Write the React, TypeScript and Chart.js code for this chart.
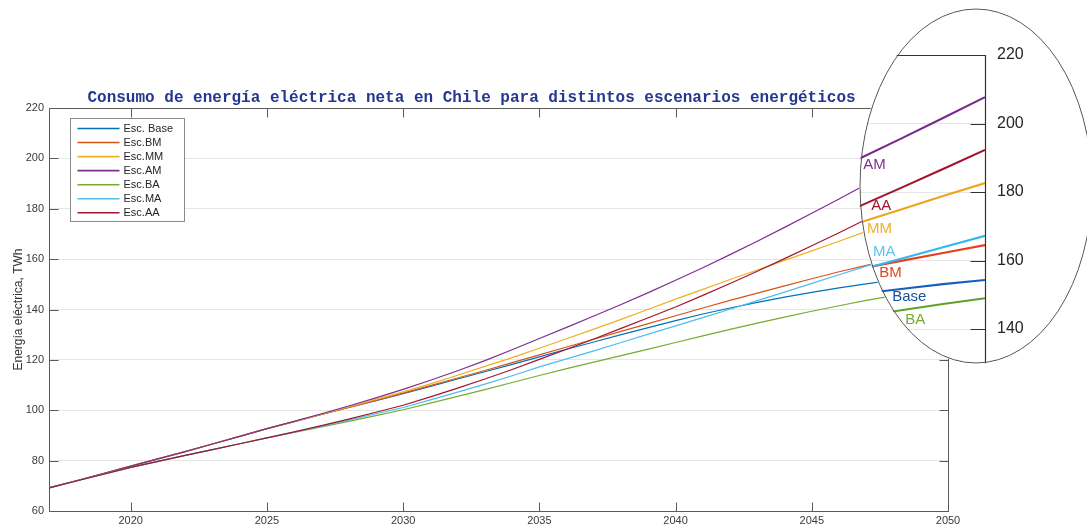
import React, { useEffect, useRef } from "react";
import { Chart, registerables } from "chart.js";

Chart.register(...registerables);

// ---- data -------------------------------------------------------------
const years = [
  2017, 2018, 2019, 2020, 2021, 2022, 2023, 2024, 2025, 2026, 2027, 2028,
  2029, 2030, 2031, 2032, 2033, 2034, 2035, 2036, 2037, 2038, 2039, 2040,
  2041, 2042, 2043, 2044, 2045, 2046, 2047, 2048, 2049, 2050,
];

const escBase = [
  69.2, 72.0, 74.9, 77.8, 80.7, 83.6, 86.6, 89.6, 92.7, 95.5, 98.3, 101.1,
  103.8, 106.6, 109.5, 112.4, 115.3, 118.2, 121.2, 124.2, 127.1, 130.0, 132.8,
  135.6, 138.2, 140.6, 142.8, 144.9, 146.8, 148.6, 150.2, 151.7, 153.1, 154.3,
];
const escBM = [
  69.2, 72.0, 74.9, 77.8, 80.7, 83.6, 86.6, 89.6, 92.7, 95.5, 98.3, 101.1,
  103.9, 106.8, 109.8, 112.8, 115.8, 118.9, 122.0, 125.1, 128.2, 131.3, 134.4,
  137.5, 140.6, 143.6, 146.5, 149.4, 152.2, 155.0, 157.5, 159.9, 162.2, 164.5,
];
const escMM = [
  69.2, 72.0, 74.9, 77.8, 80.7, 83.6, 86.6, 89.6, 92.7, 95.5, 98.4, 101.3,
  104.3, 107.3, 110.5, 113.9, 117.4, 120.9, 124.6, 128.4, 132.2, 136.1, 140.1,
  144.1, 148.0, 151.9, 155.7, 159.5, 163.3, 167.1, 171.0, 174.9, 178.8, 182.6,
];
const escAM = [
  69.2, 72.0, 74.9, 77.8, 80.7, 83.6, 86.6, 89.6, 92.7, 95.6, 98.6, 101.7,
  104.9, 108.3, 111.9, 115.7, 119.7, 124.0, 128.5, 132.9, 137.4, 142.0, 146.7,
  151.6, 156.6, 161.8, 167.1, 172.6, 178.2, 183.9, 189.7, 195.6, 201.6, 207.7,
];
const escBA = [
  69.2, 71.9, 74.6, 77.3, 79.7, 82.1, 84.4, 86.7, 89.0, 91.2, 93.4, 95.6,
  97.9, 100.2, 102.8, 105.5, 108.2, 111.0, 113.8, 116.5, 119.1, 121.7, 124.3,
  126.9, 129.5, 132.1, 134.6, 137.0, 139.3, 141.5, 143.6, 145.5, 147.3, 149.0,
];
const escMA = [
  69.2, 71.9, 74.6, 77.3, 79.7, 82.1, 84.4, 86.7, 89.0, 91.3, 93.7, 96.1,
  98.6, 101.1, 104.1, 107.2, 110.4, 113.7, 117.2, 120.4, 123.6, 126.9, 130.2,
  133.5, 136.8, 140.1, 143.5, 146.9, 150.4, 153.8, 157.2, 160.5, 163.9, 167.2,
];
const escAA = [
  69.2, 71.9, 74.6, 77.3, 79.7, 82.1, 84.4, 86.7, 89.0, 91.4, 93.9, 96.5,
  99.2, 102.0, 105.3, 108.8, 112.4, 116.2, 120.2, 124.2, 128.3, 132.5, 136.7,
  141.0, 145.6, 150.3, 155.2, 160.2, 165.3, 170.5, 175.8, 181.2, 186.7, 192.3,
];

const seriesValues = [escBase, escBM, escMM, escAM, escBA, escMA, escAA];
const legendNames = ["Esc. Base", "Esc.BM", "Esc.MM", "Esc.AM", "Esc.BA", "Esc.MA", "Esc.AA"];
const shortNames = ["Base", "BM", "MM", "AM", "BA", "MA", "AA"];
const seriesColors = ["#0072BD", "#D95319", "#EDB120", "#7E2F8E", "#77AC30", "#4DBEEE", "#A2142F"];
const lensColors = ["#1560BD", "#E8401C", "#EDA51A", "#7A2A8C", "#62A02C", "#33B8EE", "#A2142F"];
const labelColors = ["#1d4f9f", "#E0461F", "#EDB120", "#7E2F8E", "#77AC30", "#5CC3EE", "#A2142F"];

// where each scenario tag sits inside the zoom lens (year, TWh)
const tagYears = [2047.79, 2047.48, 2047.19, 2047.1, 2048.1, 2047.33, 2047.29];
const tagValues = [149.3, 156.4, 169.2, 187.9, 142.6, 162.5, 175.9];

const xTicks = [2020, 2025, 2030, 2035, 2040, 2045, 2050];
const yTicks = [60, 80, 100, 120, 140, 160, 180, 200, 220];
const lensTicks = [100, 120, 140, 160, 180, 200, 220];

const titleText = "Consumo de energía eléctrica neta en Chile para distintos escenarios energéticos";
const yTitle = "Energía eléctrica, TWh";

// ---- helpers -----------------------------------------------------------
const W = 1087;
const H = 527;
const SANS = '"Liberation Sans", Arial, Helvetica, sans-serif';

function buildDatasets(width: number, colors: string[]) {
  const n = seriesValues.length;
  return seriesValues.map((vals, i) => ({
    label: legendNames[i],
    data: years.map((yr, k) => ({ x: yr, y: vals[k] })),
    borderColor: colors[i],
    backgroundColor: colors[i],
    borderWidth: width,
    pointRadius: 0,
    tension: 0,
    fill: false,
    order: n - i,
  }));
}

const framePlugin = {
  id: "frame",
  afterDraw(chart: any) {
    const { ctx, chartArea: a, scales } = chart;
    const xs = scales.x;
    const ys = scales.y;
    const L = Math.round(a.left) + 0.5;
    const R = Math.round(a.right) + 0.5;
    const T = Math.round(a.top) + 0.5;
    const B = Math.round(a.bottom) + 0.5;
    ctx.save();
    ctx.strokeStyle = "#5a5a5a";
    ctx.lineWidth = 1;
    ctx.beginPath();
    ctx.rect(L, T, R - L, B - T);
    const tl = 9;
    xTicks.forEach((v) => {
      const px = Math.round(xs.getPixelForValue(v)) + 0.5;
      ctx.moveTo(px, B);
      ctx.lineTo(px, B - tl);
      ctx.moveTo(px, T);
      ctx.lineTo(px, T + tl);
    });
    yTicks.forEach((v) => {
      const py = Math.round(ys.getPixelForValue(v)) + 0.5;
      ctx.moveTo(L, py);
      ctx.lineTo(L + tl, py);
      ctx.moveTo(R, py);
      ctx.lineTo(R - tl, py);
    });
    ctx.stroke();

    // title
    ctx.font = 'bold 16px "Liberation Mono", "Courier New", monospace';
    ctx.fillStyle = "#26378f";
    ctx.textAlign = "center";
    ctx.textBaseline = "alphabetic";
    ctx.fillText(titleText, a.left + a.width * 0.47, a.top - 6);

    // legend
    const bx = Math.round(a.left) + 21.5;
    const by = T + 10;
    const bw = 114;
    const bh = 103;
    ctx.fillStyle = "#ffffff";
    ctx.fillRect(bx, by, bw, bh);
    ctx.strokeStyle = "#8a8a8a";
    ctx.strokeRect(bx, by, bw, bh);
    ctx.font = `11px ${SANS}`;
    ctx.textAlign = "left";
    ctx.textBaseline = "middle";
    legendNames.forEach((name, i) => {
      const ry = by + 10 + i * 14.05;
      ctx.strokeStyle = seriesColors[i];
      ctx.lineWidth = 1.6;
      ctx.beginPath();
      ctx.moveTo(bx + 7, ry);
      ctx.lineTo(bx + 49, ry);
      ctx.stroke();
      ctx.fillStyle = "#262626";
      ctx.fillText(name, bx + 53, ry + 0.5);
    });
    ctx.restore();
  },
};

const LENS = { cx: 976, cy: 186, rx: 116, ry: 177 };

const lensPlugin = {
  id: "lens",
  beforeDraw(chart: any) {
    const { ctx } = chart;
    ctx.save();
    ctx.fillStyle = "#ffffff";
    ctx.fillRect(0, 0, chart.width, chart.height);
    ctx.restore();
  },
  afterDraw(chart: any) {
    const { ctx, chartArea: a, scales } = chart;
    const xs = scales.x;
    const ys = scales.y;
    const R = Math.round(a.right) + 0.5;
    const T = Math.round(a.top) + 0.5;
    ctx.save();
    ctx.strokeStyle = "#333333";
    ctx.lineWidth = 1.2;
    ctx.beginPath();
    ctx.moveTo(a.left, T);
    ctx.lineTo(R, T);
    ctx.lineTo(R, H);
    lensTicks.forEach((v) => {
      const py = Math.round(ys.getPixelForValue(v)) + 0.5;
      ctx.moveTo(R, py);
      ctx.lineTo(R - 15, py);
    });
    ctx.stroke();

    ctx.font = `15px ${SANS}`;
    ctx.textAlign = "left";
    ctx.textBaseline = "middle";
    shortNames.forEach((name, i) => {
      ctx.fillStyle = labelColors[i];
      ctx.fillText(name, xs.getPixelForValue(tagYears[i]), ys.getPixelForValue(tagValues[i]));
    });

    ctx.strokeStyle = "#555555";
    ctx.lineWidth = 1;
    ctx.beginPath();
    ctx.ellipse(LENS.cx, LENS.cy, LENS.rx, LENS.ry, 0, 0, Math.PI * 2);
    ctx.stroke();
    ctx.restore();
  },
};

export default function App() {
  const mainRef = useRef<HTMLCanvasElement>(null);
  const lensRef = useRef<HTMLCanvasElement>(null);

  useEffect(() => {
    if (!mainRef.current || !lensRef.current) return;
    const tickFont = { family: SANS, size: 11 };

    const main = new Chart(mainRef.current, {
      type: "line",
      data: { datasets: buildDatasets(1.2, seriesColors) as any },
      options: {
        responsive: false,
        animation: false,
        events: [],
        layout: { padding: { left: 0, top: 108, right: W - 948, bottom: 0 } },
        plugins: { legend: { display: false }, tooltip: { enabled: false }, title: { display: false } },
        scales: {
          x: {
            type: "linear",
            min: 2017,
            max: 2050,
            afterBuildTicks: (s: any) => {
              s.ticks = xTicks.map((v) => ({ value: v }));
            },
            afterFit: (s: any) => {
              s.height = H - 511;
            },
            grid: { display: false, drawTicks: false },
            border: { display: false },
            ticks: { padding: 3, font: tickFont, color: "#3a3a3a", maxRotation: 0, callback: (v: any) => String(v) },
          },
          y: {
            type: "linear",
            min: 60,
            max: 220,
            afterBuildTicks: (s: any) => {
              s.ticks = yTicks.map((v) => ({ value: v }));
            },
            afterFit: (s: any) => {
              s.width = 49;
            },
            grid: { color: "#e6e6e6", lineWidth: 1, drawTicks: false },
            border: { display: false },
            ticks: { padding: 5, font: tickFont, color: "#3a3a3a" },
            title: {
              display: true,
              text: yTitle,
              color: "#333333",
              font: { family: SANS, size: 12 },
              padding: { top: 11, bottom: 0 },
            },
          },
        },
      } as any,
      plugins: [framePlugin],
    });

    const lens = new Chart(lensRef.current, {
      type: "line",
      data: { datasets: buildDatasets(2.1, lensColors) as any },
      options: {
        responsive: false,
        animation: false,
        events: [],
        layout: { padding: { left: 700, top: 55, right: 0, bottom: 0 } },
        plugins: { legend: { display: false }, tooltip: { enabled: false }, title: { display: false } },
        scales: {
          x: { type: "linear", min: 2043.21, max: 2050, display: false },
          y: {
            type: "linear",
            position: "right",
            min: 88.5,
            max: 220,
            afterBuildTicks: (s: any) => {
              s.ticks = lensTicks.map((v) => ({ value: v }));
            },
            afterFit: (s: any) => {
              s.width = W - 985;
            },
            grid: { color: "#e6e6e6", lineWidth: 1, drawTicks: false },
            border: { display: false },
            ticks: { padding: 12, font: { family: SANS, size: 16 }, color: "#262626" },
          },
        },
      } as any,
      plugins: [lensPlugin],
    });

    return () => {
      main.destroy();
      lens.destroy();
    };
  }, []);

  return (
    <div style={{ position: "absolute", left: 0, top: 0, width: W, height: H, background: "#ffffff", overflow: "hidden" }}>
      <canvas ref={mainRef} width={W} height={H} style={{ position: "absolute", left: 0, top: 0 }} />
      <canvas
        ref={lensRef}
        width={W}
        height={H}
        style={{
          position: "absolute",
          left: 0,
          top: 0,
          clipPath: `ellipse(${LENS.rx + 1}px ${LENS.ry + 1}px at ${LENS.cx}px ${LENS.cy}px)`,
        }}
      />
    </div>
  );
}
